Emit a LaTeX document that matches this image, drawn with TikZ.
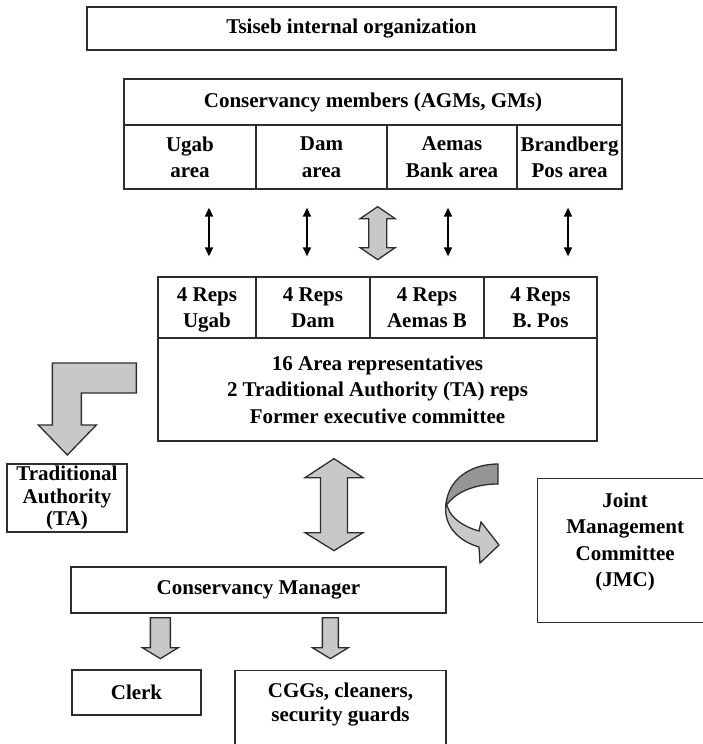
\documentclass[tikz,border=0pt]{standalone}
\usepackage{fontspec}
\setmainfont{Liberation Serif}
\usetikzlibrary{arrows.meta,calc}
\definecolor{arrowfill}{RGB}{200,200,200}
\definecolor{arrowdark}{RGB}{150,150,150}
\definecolor{edge}{RGB}{45,45,45}

\begin{document}
\begin{tikzpicture}[
    x=1pt, y=-1pt,
    box/.style={draw=edge, line width=1.3pt, inner sep=0pt, align=center, font=\bfseries\fontsize{21}{26.5}\selectfont},
    cell/.style={box, text depth=-6pt},
    txt/.style={inner sep=0pt, align=center, font=\bfseries\fontsize{21}{26.5}\selectfont},
    thinarr/.style={{Triangle[length=9pt,width=8pt]}-{Triangle[length=9pt,width=8pt]}, line width=1.4pt},
    blk/.style={draw=edge, line width=1.3pt, fill=arrowfill, line join=miter}
]
\useasboundingbox (0,0) rectangle (702,744);

% top blocks
\node[box, minimum width=529, minimum height=43] (title) at (351.5,28.5) {Tsiseb internal organization};
\node[box, minimum width=498, minimum height=46] (members) at (373,102) {Conservancy members (AGMs, GMs)};
\node[cell, minimum width=132, minimum height=64] (areaU) at (190,157) {Ugab\\area};
\node[cell, minimum width=131, minimum height=64] (areaD) at (321.5,157) {Dam\\area};
\node[cell, minimum width=130, minimum height=64] (areaA) at (452,157) {Aemas\\Bank area};
\node[cell, minimum width=105, minimum height=64] (areaB) at (569.5,157) {Brandberg\\Pos area};

% representatives
\node[cell, minimum width=98, minimum height=61] (repU) at (207,307.5) {4 Reps\\Ugab};
\node[cell, minimum width=114, minimum height=61] (repD) at (313,307.5) {4 Reps\\Dam};
\node[cell, minimum width=114, minimum height=61] (repA) at (427,307.5) {4 Reps\\Aemas B};
\node[cell, minimum width=113, minimum height=61] (repB) at (540.5,307.5) {4 Reps\\B. Pos};
\node[box, minimum width=439, minimum height=103] (board) at (377.5,389.5) {16 Area representatives\\2 Traditional Authority (TA) reps\\Former executive committee};

% side bodies
\node[box, minimum width=120, minimum height=68, font=\bfseries\fontsize{21}{22.5}\selectfont] (ta) at (67,498) {Traditional\\Authority\\(TA)};
\node[box, minimum width=175, minimum height=144, anchor=north west] (jmc) at (537,478) {};
\node[txt, font=\bfseries\fontsize{21}{26.5}\selectfont] (jmctext) at ($(jmc.north)+(0,64)$) {Joint\\Management\\Committee\\(JMC)};

% management
\node[box, minimum width=375, minimum height=46] (manager) at (258.5,590) {Conservancy Manager};
\node[box, minimum width=129, minimum height=45] (clerk) at (136.5,692.5) {Clerk};
\node[box, minimum width=211, minimum height=90, anchor=north] (staff) at (340.5,670) {};
\node[txt, font=\bfseries\fontsize{21}{24}\selectfont] (stafftext) at ($(staff.north)+(0,35)$) {CGGs, cleaners,\\security guards};

% thin links areas - reps
\draw[thinarr] ($(areaU.south)+(19,18)$) -- ($(areaU.south |- repU.north)+(19,-20)$);
\draw[thinarr] ($(areaD.south)+(-14.5,18)$) -- ($(areaD.south |- repD.north)+(-14.5,-20)$);
\draw[thinarr] ($(areaA.south)+(-4,18)$) -- ($(areaA.south |- repA.north)+(-4,-20)$);
\draw[thinarr] ($(areaB.south)+(-1.5,18)$) -- ($(areaB.south |- repB.north)+(-1.5,-20)$);

% block arrows
\draw[blk] ($(areaD.south east)+(-10,17)$) -- ++(17.5,12) -- ++(-8.5,0) -- ++(0,29) -- ++(8.5,0) -- ++(-17.5,12) -- ++(-17.5,-12) -- ++(8.5,0) -- ++(0,-29) -- ++(-8.5,0) -- cycle;
\draw[blk] ($(board.south)+(-43.5,17)$) -- ++(29,19) -- ++(-15.5,0) -- ++(0,55) -- ++(15.5,0) -- ++(-29,18) -- ++(-29,-18) -- ++(15.5,0) -- ++(0,-55) -- ++(-15.5,0) -- cycle;
\draw[blk] ($(board.west)+(-21,-26.5)$) -- ++(0,30) -- ++(-55,0) -- ++(0,32) -- ++(15,0) -- ++(-29,30) -- ++(-29,-30) -- ++(14,0) -- ++(0,-62) -- cycle;
\draw[blk] ($(manager.south west)+(80,4)$) -- ++(20,0) -- ++(0,30) -- ++(8,0) -- ++(-18,11) -- ++(-18,-11) -- ++(8,0) -- cycle;
\draw[blk] ($(manager.south west)+(252,4)$) -- ++(16,0) -- ++(0,30) -- ++(10,0) -- ++(-18,11) -- ++(-18,-11) -- ++(10,0) -- cycle;

% curved arrow towards JMC
\begin{scope}[shift={(jmc.north west)}]
\draw[blk] (-91,26) .. controls (-94,47) and (-79,63) .. (-58,69) -- (-57,85) -- (-38,67) -- (-56,44) -- (-58,53) .. controls (-73,49) and (-86,40) .. (-89,30) -- cycle;
\draw[blk, fill=arrowdark] (-39,-14) .. controls (-67,-14) and (-90,2) .. (-91,28) .. controls (-82,14) and (-62,6) .. (-39,6) -- cycle;
\end{scope}
\end{tikzpicture}
\end{document}
